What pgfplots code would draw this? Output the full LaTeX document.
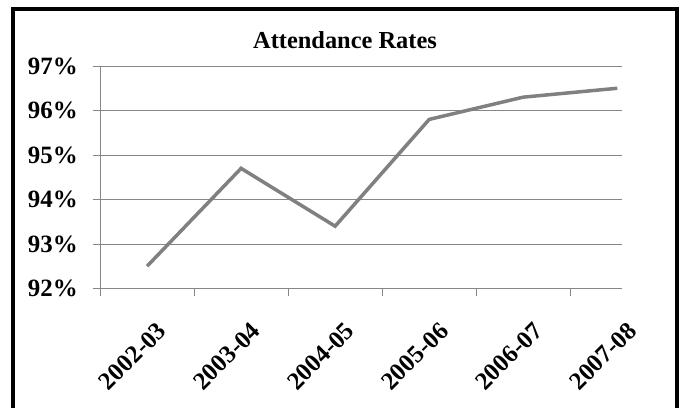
\documentclass[border=0pt]{standalone}
\usepackage{fontspec}
\setmainfont{Liberation Serif}
\usepackage{pgfplots}
\pgfplotsset{compat=1.18}
\definecolor{gridc}{RGB}{134,134,134}
\definecolor{linec}{RGB}{128,128,128}
\begin{document}
\begin{tikzpicture}[x=1bp,y=1bp]
\fill[white] (0,0) rectangle (679,407);
\useasboundingbox (0,0) rectangle (679,407);
\draw[line width=4bp] (13,-10) -- (13,398) -- (677,398) -- (677,-10);
\node[anchor=base, inner sep=0pt, font=\fontsize{24.5}{29}\selectfont\bfseries] at (345,359) {Attendance Rates};
\begin{axis}[
  scale only axis, width=522bp, height=222.5bp,
  at={(100bp,118.5bp)}, anchor=south west,
  xmin=-0.5, xmax=5.05, ymin=92, ymax=97,
  axis x line*=bottom, axis y line*=left,
  axis line style={gridc, line width=0.8bp, -},
  xtick={0,...,5},
  xticklabels={2002-03,2003-04,2004-05,2005-06,2006-07,2007-08},
  minor xtick={-0.5,0.5,1.5,2.5,3.5,4.5},
  ytick={92,93,94,95,96,97}, minor ytick={92,93,94,95,96,97},
  yticklabel={\pgfmathprintnumber{\tick}\%},
  ymajorgrids, xmajorgrids=false,
  major grid style={gridc, line width=0.8bp},
  major tick length=0pt, minor tick length=7.5bp, tick align=outside,
  every tick/.style={gridc, line width=0.8bp},
  minor tick style={gridc, line width=0.8bp},
  /pgf/number format/assume math mode=true,
  ticklabel style={font=\fontsize{25}{30}\selectfont\bfseries, inner sep=0pt},
  yticklabel style={anchor=east, xshift=-22bp},
  xticklabel style={xshift=15bp, yshift=-38bp, rotate=45, anchor=east},
  clip=false,
]
\addplot[linec, line width=3.5bp, no markers] coordinates {
  (0,92.5) (1,94.7) (2,93.4) (3,95.8) (4,96.3) (5,96.5)
};
\end{axis}
\end{tikzpicture}
\end{document}
